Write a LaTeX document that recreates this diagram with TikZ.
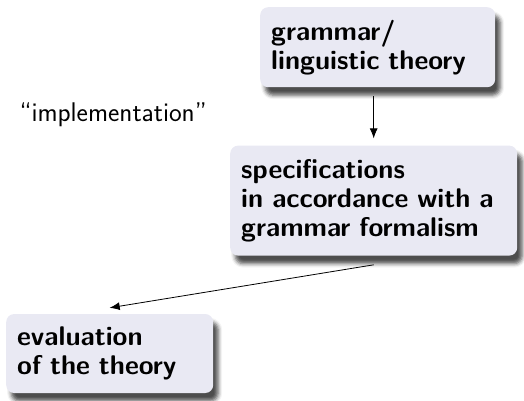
\documentclass[tikz,border=0pt]{standalone}
\usepackage{xcolor}
\usepackage{tikz}
\usetikzlibrary{arrows.meta, positioning, shadows.blur}

\definecolor{boxfill}{RGB}{233,233,243}

\begin{document}
\begin{tikzpicture}[
    x=1pt, y=-1pt,
    every node/.style={font=\fontsize{27}{29}\selectfont\sffamily},
    box/.style={rectangle, rounded corners=8pt, fill=boxfill, anchor=north west, align=left, inner xsep=11pt,
      font=\fontsize{27}{29}\selectfont\sffamily\bfseries,
      blur shadow={shadow xshift=5pt, shadow yshift=-8pt, shadow blur radius=4pt, shadow opacity=70}},
    arrow/.style={-{Latex[length=10pt, width=8pt]}, line width=0.8pt}
  ]
  \useasboundingbox (0,0) rectangle (524,400);

  \node[box, text width=213pt, minimum height=80pt] (grammar) at (260,7) {grammar/\\linguistic theory};
  \node[box, text width=265pt, minimum height=110pt, below=58pt of grammar.south west, anchor=north west, xshift=-30pt] (spec) {specifications\\in accordance with a\\grammar formalism};
  \node[box, text width=185pt, minimum height=79pt, below=58pt of spec.south west, anchor=north west, xshift=-224pt] (evaluation) {evaluation\\of the theory};
  \node[anchor=base west] (impl) at (16,121) {``implementation''};

  \draw[arrow, shorten <=9pt, shorten >=7pt] (spec.north |- grammar.south) -- (spec.north);
  \draw[arrow] ([yshift=-9pt]spec.south) -- ([yshift=6pt]evaluation.north);

\end{tikzpicture}
\end{document}
